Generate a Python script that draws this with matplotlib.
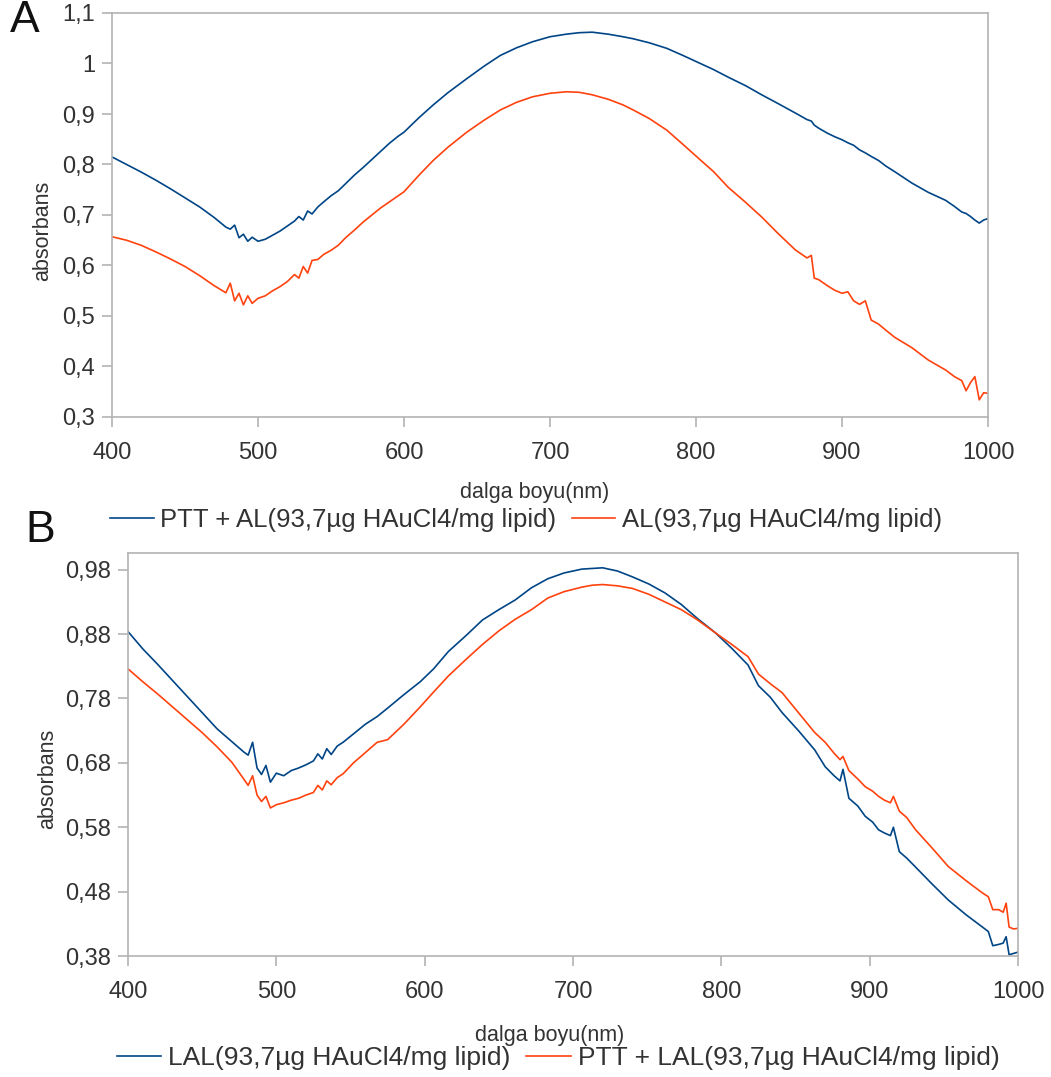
import matplotlib
matplotlib.use('Agg')
from matplotlib import pyplot as plt
from matplotlib.ticker import FuncFormatter

plt.rcParams['font.family'] = ['Liberation Sans', 'DejaVu Sans']

BLUE = '#004586'
ORANGE = '#ff420e'
FRAME = '#b3b3b3'
TEXT = '#333333'

# panel A: wavelength grid and the two spectra
a_nm = [400, 410, 420, 430, 440, 450, 460, 470, 478, 481, 484, 487, 490, 493, 496,
        500, 505, 510, 515, 520, 525, 528, 531, 534, 537, 541, 545, 550, 555, 560,
        566, 572, 578, 584, 590, 596, 600, 610, 620, 630, 643, 655, 666, 677, 688,
        700, 711, 720, 729, 740, 750, 757, 768, 780, 791, 803, 812, 822, 834, 845,
        856, 868, 876, 879, 881, 884, 890, 895, 900, 904, 908, 912, 916, 920, 925,
        930, 936, 948, 959, 971, 977, 982, 985, 988, 991, 994, 997, 1000]
a_ptt_al = [0.815, 0.800, 0.785, 0.769, 0.752, 0.734, 0.716, 0.695, 0.676, 0.672, 0.680, 0.655, 0.662, 0.648, 0.656,
            0.648, 0.652, 0.660, 0.668, 0.678, 0.688, 0.697, 0.690, 0.708, 0.702, 0.716, 0.726, 0.738, 0.748, 0.762,
            0.779, 0.794, 0.810, 0.826, 0.842, 0.856, 0.864, 0.892, 0.918, 0.942, 0.970, 0.995, 1.016, 1.031, 1.043,
            1.053, 1.058, 1.061, 1.062, 1.058, 1.053, 1.049, 1.041, 1.030, 1.016, 1.000, 0.988, 0.973, 0.956, 0.938,
            0.921, 0.902, 0.889, 0.886, 0.878, 0.872, 0.862, 0.855, 0.849, 0.843, 0.838, 0.829, 0.823, 0.816, 0.808,
            0.797, 0.786, 0.763, 0.745, 0.729, 0.717, 0.706, 0.703, 0.697, 0.690, 0.684, 0.690, 0.693]
a_al = [0.657, 0.650, 0.640, 0.627, 0.613, 0.598, 0.580, 0.560, 0.546, 0.565, 0.530, 0.545, 0.522, 0.540, 0.525,
        0.535, 0.540, 0.550, 0.558, 0.568, 0.582, 0.575, 0.598, 0.585, 0.610, 0.612, 0.622, 0.630, 0.640, 0.655,
        0.670, 0.686, 0.700, 0.714, 0.726, 0.738, 0.746, 0.778, 0.808, 0.834, 0.864, 0.888, 0.908, 0.923, 0.934,
        0.941, 0.944, 0.943, 0.938, 0.929, 0.918, 0.908, 0.891, 0.868, 0.840, 0.809, 0.786, 0.755, 0.725, 0.696,
        0.664, 0.631, 0.615, 0.620, 0.575, 0.572, 0.560, 0.551, 0.545, 0.548, 0.530, 0.523, 0.530, 0.492, 0.484,
        0.472, 0.458, 0.437, 0.413, 0.393, 0.380, 0.372, 0.352, 0.368, 0.380, 0.334, 0.348, 0.347]

# panel B
b_nm = [400, 410, 420, 430, 440, 450, 460, 470, 478, 481, 484, 487, 490, 493, 496,
        500, 505, 510, 515, 520, 525, 528, 531, 534, 537, 541, 545, 552, 560, 568,
        575, 586, 597, 606, 616, 628, 639, 650, 661, 672, 683, 694, 706, 713, 720,
        730, 740, 751, 762, 773, 784, 796, 807, 818, 825, 833, 841, 852, 863, 870,
        876, 880, 882, 886, 892, 897, 902, 906, 910, 914, 916, 920, 925, 931, 942,
        953, 965, 976, 980, 983, 987, 990, 992, 994, 997, 1000]
b_lal = [0.884, 0.857, 0.833, 0.808, 0.783, 0.758, 0.733, 0.713, 0.697, 0.692, 0.712, 0.672, 0.662, 0.676, 0.650,
         0.664, 0.660, 0.668, 0.672, 0.677, 0.683, 0.694, 0.686, 0.702, 0.693, 0.706, 0.712, 0.725, 0.740, 0.752,
         0.765, 0.786, 0.806, 0.826, 0.853, 0.878, 0.902, 0.918, 0.933, 0.952, 0.966, 0.975, 0.981, 0.982, 0.983,
         0.978, 0.969, 0.958, 0.944, 0.926, 0.904, 0.882, 0.858, 0.832, 0.800, 0.782, 0.758, 0.730, 0.700, 0.674,
         0.660, 0.652, 0.670, 0.625, 0.613, 0.597, 0.588, 0.576, 0.571, 0.567, 0.580, 0.542, 0.532, 0.518, 0.492,
         0.467, 0.444, 0.425, 0.418, 0.396, 0.398, 0.400, 0.410, 0.382, 0.384, 0.386]
b_ptt_lal = [0.826, 0.806, 0.787, 0.767, 0.747, 0.727, 0.705, 0.681, 0.655, 0.645, 0.660, 0.630, 0.620, 0.628, 0.610,
             0.615, 0.618, 0.622, 0.625, 0.630, 0.634, 0.645, 0.638, 0.652, 0.646, 0.657, 0.663, 0.680, 0.696, 0.712,
             0.716, 0.740, 0.767, 0.790, 0.815, 0.841, 0.864, 0.885, 0.903, 0.918, 0.936, 0.946, 0.953, 0.956, 0.957,
             0.955, 0.951, 0.942, 0.930, 0.918, 0.902, 0.882, 0.864, 0.845, 0.818, 0.803, 0.789, 0.758, 0.727, 0.712,
             0.695, 0.685, 0.690, 0.668, 0.655, 0.643, 0.636, 0.628, 0.622, 0.618, 0.628, 0.605, 0.595, 0.576, 0.548,
             0.519, 0.497, 0.478, 0.472, 0.452, 0.452, 0.448, 0.462, 0.425, 0.422, 0.423]

a_yticks = [0.3, 0.4, 0.5, 0.6, 0.7, 0.8, 0.9, 1.0, 1.1]
b_yticks = [0.38, 0.48, 0.58, 0.68, 0.78, 0.88, 0.98]
xticks = [400, 500, 600, 700, 800, 900, 1000]

a_labels = ['PTT + AL(93,7µg HAuCl4/mg lipid)', 'AL(93,7µg HAuCl4/mg lipid)']
b_labels = ['LAL(93,7µg HAuCl4/mg lipid)', 'PTT + LAL(93,7µg HAuCl4/mg lipid)']


def comma_fmt(v, _pos):
    s = f'{v:.2f}'.rstrip('0').rstrip('.')
    return s.replace('.', ',')


def style_axes(ax, yticks, ylim):
    ax.set_xlim(400, 1000)
    ax.set_ylim(*ylim)
    ax.set_xticks(xticks)
    ax.set_yticks(yticks)
    ax.yaxis.set_major_formatter(FuncFormatter(comma_fmt))
    for sp in ax.spines.values():
        sp.set_color(FRAME)
        sp.set_linewidth(1.2)
    ax.tick_params(axis='both', direction='out', length=7, width=1.2, color=FRAME,
                   labelcolor=TEXT, labelsize=17)
    ax.tick_params(axis='x', pad=11)
    ax.tick_params(axis='y', pad=5)
    ax.set_ylabel('absorbans', fontsize=15.5, color=TEXT)
    ax.set_xlabel('dalga boyu(nm)', fontsize=15.5, color=TEXT)
    ax.xaxis.label.set_va('center')
    ax.yaxis.label.set_va('center')


fig = plt.figure(figsize=(10.51, 10.77), dpi=100)

ax_a = fig.add_axes([112 / 1051, 1 - 417 / 1077, 876 / 1051, 404 / 1077])
ax_a.plot(a_nm, a_ptt_al, color=BLUE, lw=1.2, label=a_labels[0])
ax_a.plot(a_nm, a_al, color=ORANGE, lw=1.2, label=a_labels[1])
style_axes(ax_a, a_yticks, (0.3, 1.1))
ax_a.xaxis.set_label_coords(0.483, -0.188)
ax_a.yaxis.set_label_coords(-0.079, 0.46)
ax_a.legend(loc='center', bbox_to_anchor=((526 - 112) / 876, (417 - 520) / 404), ncol=2,
            frameon=False, fontsize=18.5, handlelength=1.7, handletextpad=0.25,
            columnspacing=0.6, labelcolor=TEXT)

ax_b = fig.add_axes([128 / 1051, 1 - 956 / 1077, 890 / 1051, 403 / 1077])
ax_b.plot(b_nm, b_lal, color=BLUE, lw=1.2, label=b_labels[0])
ax_b.plot(b_nm, b_ptt_lal, color=ORANGE, lw=1.2, label=b_labels[1])
style_axes(ax_b, b_yticks, (0.38, 1.006))
ax_b.xaxis.set_label_coords(0.474, -0.198)
ax_b.yaxis.set_label_coords(-0.09, 0.44)
ax_b.legend(loc='center', bbox_to_anchor=((558 - 128) / 890, (956 - 1058) / 403), ncol=2,
            frameon=False, fontsize=19, handlelength=1.7, handletextpad=0.25,
            columnspacing=0.6, labelcolor=TEXT)

fig.text(25 / 1051, 1 - 21 / 1077, 'A', fontsize=32, ha='center', va='center', color='#111111')
fig.text(40 / 1051, 1 - 531 / 1077, 'B', fontsize=32, ha='center', va='center', color='#111111')

plt.savefig('out.png', dpi=100)
